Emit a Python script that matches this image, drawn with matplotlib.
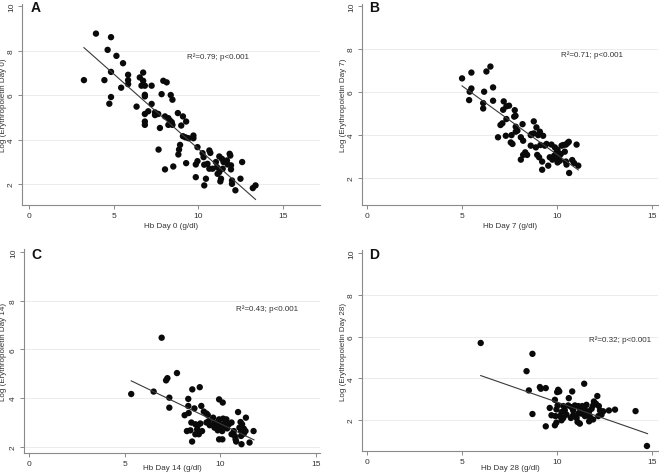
import matplotlib
matplotlib.use("Agg")
import matplotlib.pyplot as plt
import numpy as np

plt.rcParams['font.family'] = ['Liberation Sans', 'DejaVu Sans']

# ---------------- data ----------------
a_x = [3.96, 4.85, 4.65, 5.17, 5.56, 4.85, 3.25, 4.46, 5.86, 5.86, 5.86, 5.45, 4.85, 4.75, 6.36,
       6.75, 6.55, 6.75, 6.65, 6.85, 7.25, 6.85, 6.85, 7.25, 7.05, 6.85, 6.85, 6.85, 7.45, 7.64,
       7.45, 7.94, 8.14, 7.84, 8.38, 8.48, 8.04, 8.24, 8.34, 8.44, 8.24, 8.48, 7.74, 8.80, 9.10,
       9.29, 9.00, 7.66, 9.10, 9.25, 9.43, 9.72, 9.72, 8.93, 8.87, 8.83, 9.29, 8.53, 8.04, 9.96,
       9.96, 9.86, 9.86, 10.26, 10.32, 10.36, 10.36, 10.46, 10.66, 10.72, 10.55, 10.66, 10.85, 11.11,
       11.15, 11.25, 11.35, 11.31, 11.25, 11.41, 11.50, 11.70, 11.90, 11.86, 11.45, 11.94, 11.94,
       12.00, 12.00, 12.20, 12.50, 12.60, 13.23, 13.39, 11.74, 11.05]
a_y = [8.76, 8.60, 8.03, 7.76, 7.43, 7.04, 6.67, 6.67, 6.91, 6.67, 6.49, 6.33, 5.91, 5.61, 5.48,
       7.01, 6.79, 6.64, 6.42, 6.42, 6.42, 6.01, 5.94, 5.60, 5.27, 5.15, 4.81, 4.66, 5.22, 5.15,
       5.10, 6.64, 6.57, 6.04, 6.00, 5.79, 5.04, 4.96, 4.85, 4.78, 4.66, 4.66, 4.52, 5.19, 5.04,
       4.81, 4.63, 3.55, 4.15, 4.10, 4.06, 4.18, 4.06, 3.76, 3.55, 3.33, 2.94, 2.79, 2.66, 3.66,
       3.03, 2.88, 2.31, 3.39, 3.21, 2.87, 1.94, 2.24, 3.51, 3.40, 2.91, 2.69, 2.69, 2.76,
       2.46, 2.54, 2.24, 2.12, 3.24, 3.13, 2.99, 3.06, 3.28, 3.36, 2.69, 2.84, 2.66,
       2.16, 2.01, 1.72, 2.24, 2.99, 1.82, 1.94, 2.88, 2.99]

b_x = [5.00, 6.49, 6.28, 5.49, 5.49, 5.40, 5.37, 6.16, 6.63, 6.63, 6.11, 6.11, 7.19, 7.47, 7.33,
       7.16, 7.77, 7.81, 7.74, 7.33, 7.12, 7.02, 7.82, 7.91, 7.82, 7.60, 6.89, 7.30, 7.56, 7.65,
       8.09, 8.18, 8.21, 8.09, 8.21, 8.42, 8.61, 8.65, 8.77, 8.77, 8.91, 9.09, 9.26, 9.00, 8.88,
       8.95, 9.05, 9.21, 9.21, 9.12, 9.35, 9.44, 9.53, 9.70, 9.75, 9.84, 9.88, 10.02, 9.96, 10.11,
       10.14, 10.02, 10.23, 10.32, 10.46, 10.54, 10.61, 10.40, 10.46, 10.49, 10.63, 10.79, 10.89,
       11.02, 11.11, 10.19, 9.89, 9.61, 8.61, 8.32]
b_y = [6.63, 7.18, 6.95, 6.90, 6.16, 6.01, 5.62, 6.01, 6.21, 5.59, 5.48, 5.23, 5.56, 5.36, 5.33,
       5.17, 5.15, 4.89, 4.85, 4.74, 4.54, 4.46, 4.38, 4.20, 4.15, 3.99, 3.89, 3.96, 3.65, 3.58,
       3.89, 4.50, 3.73, 2.85, 3.07, 3.07, 3.50, 4.04, 4.07, 4.63, 4.35, 4.15, 3.96, 3.99, 3.42,
       3.07, 2.96, 2.76, 2.38, 3.53, 3.50, 3.58, 2.57, 3.55, 2.85, 3.03, 3.42, 3.30, 3.19, 3.03,
       2.80, 2.72, 3.50, 3.53, 3.55, 3.62, 3.68, 3.22, 2.76, 2.62, 2.23, 2.83, 2.69,
       3.55, 2.57, 3.11, 2.94, 2.96, 3.99, 3.19]

c_x = [5.34, 6.93, 6.51, 7.16, 7.23, 7.73, 7.33, 7.33, 8.53, 8.92, 8.32, 8.32, 8.64, 9.00, 8.13,
       8.34, 9.13, 9.27, 9.34, 9.27, 9.62, 9.69, 9.93, 10.12, 9.93, 10.14, 10.31, 9.83, 10.00,
       10.09, 9.86, 10.28, 10.44, 10.58, 9.93, 10.10, 10.92, 11.05, 11.33, 11.13, 10.99, 11.22,
       11.08, 10.70, 10.58, 10.75, 10.79, 11.08, 11.31, 11.22, 11.73, 11.10, 11.52, 10.82, 8.52,
       8.25, 8.43, 8.69, 8.83, 8.95, 8.78, 8.87, 9.04, 8.83, 9.44, 9.39, 9.69, 9.91, 10.17, 8.48,
       8.69, 10.35]
c_y = [4.17, 6.48, 4.27, 4.73, 4.82, 5.03, 4.02, 3.61, 4.36, 4.45, 3.97, 3.68, 3.58, 3.68, 3.30,
       3.39, 3.45, 3.37, 3.31, 3.00, 3.20, 2.98, 3.95, 3.82, 3.13, 3.16, 3.13, 2.86, 2.79,
       2.65, 2.68, 2.82, 2.93, 3.00, 2.31, 2.31, 3.43, 3.02, 3.20, 2.93, 2.79, 2.75,
       2.65, 2.65, 2.52, 2.45, 2.31, 2.45, 2.65, 2.54, 2.65, 2.11, 2.18, 2.22, 2.22,
       2.65, 2.68, 2.93, 2.89, 2.96, 2.72, 2.52, 2.65, 2.62, 2.89, 3.06, 2.79, 3.00, 2.93, 3.00,
       2.52, 2.76]

d_x = [5.98, 8.70, 8.39, 8.51, 8.70, 9.09, 9.40, 9.14, 9.40, 11.42, 10.05, 10.11, 10.00, 10.79,
       10.61, 9.88, 9.61, 10.02, 9.96, 10.32, 10.40, 10.23, 9.70, 9.91, 10.14, 10.32, 9.88, 9.96,
       10.23, 10.58, 10.75, 10.84, 10.93, 11.11, 11.19, 11.32, 11.37, 11.42, 10.84, 11.02, 11.07,
       11.19, 11.28, 11.46, 11.67, 11.72, 11.68, 11.89, 11.89, 11.93, 12.04, 12.11, 12.19, 12.25,
       12.16, 12.33, 12.42, 12.72, 13.04, 14.12, 14.72, 11.54, 11.60, 11.11, 10.72, 10.49, 11.81]
d_y = [5.69, 5.17, 4.34, 3.42, 2.29, 3.58, 3.53, 3.50, 1.70, 3.74, 3.45, 3.37, 3.34, 3.37,
       3.05, 2.97, 2.58, 2.70, 2.51, 2.67, 2.46, 2.38, 2.23, 2.19, 2.19, 2.10, 1.75, 1.88,
       1.99, 2.70, 2.62, 2.46, 2.70, 2.67, 2.54, 2.67, 2.46, 2.58, 2.23, 2.10, 1.91,
       1.83, 2.31, 2.19, 2.38, 2.15, 1.94, 2.03, 2.70, 2.89, 2.78, 3.15, 2.67, 2.46,
       2.19, 2.26, 2.42, 2.46, 2.50, 2.43, 0.76, 2.73, 2.42, 2.31, 2.10, 2.26, 2.54]

# fitted line endpoints
a_fit_x, a_fit_y = [3.25, 13.39], [8.13, 1.31]
b_fit_x, b_fit_y = [5.00, 11.11], [6.28, 2.37]
c_fit_x, c_fit_y = [5.34, 11.75], [4.71, 2.29]
d_fit_x, d_fit_y = [5.98, 14.75], [4.13, 1.35]

letters = ["A", "B", "C", "D"]
xlabels = ["Hb Day 0 (g/dl)", "Hb Day 7 (g/dl)", "Hb Day 14 (g/dl)", "Hb Day 28 (g/dl)"]
ylabels = ["Log (Erythropoietin Day 0)", "Log (Erythropoietin Day 7)",
           "Log (Erythropoietin Day 14)", "Log (Erythropoietin Day 28)"]
stats = ["R²=0.79; p<0.001", "R²=0.71; p<0.001", "R²=0.43; p<0.001", "R²=0.32; p<0.001"]
xticks = [0, 5, 10, 15]
yticks = [2, 4, 6, 8, 10]
grid_y = [2, 4, 6, 8]

# ---------------- layout ----------------
W, H = 659, 477
fig = plt.figure(figsize=(W / 100, H / 100), dpi=100)
fig.patch.set_facecolor("white")

# pixel boxes: left, right, top, bottom ; x/y limits ; ylabel right-edge px ; xlabel top px ; letter px
panels = [
    dict(box=(22, 320, 5, 206), xlim=(-0.41, 17.2), ylim=(1.06, 10.09),
         x=a_x, y=a_y, fx=a_fit_x, fy=a_fit_y, txt=(9.35, 7.75),
         ylab_px=7.5, xlab_px=223, let=(31, 1)),
    dict(box=(362, 658, 5, 206), xlim=(-0.26, 15.3), ylim=(0.74, 10.09),
         x=b_x, y=b_y, fx=b_fit_x, fy=b_fit_y, txt=(10.19, 7.77),
         ylab_px=347, xlab_px=223, let=(369, 1)),
    dict(box=(24, 320, 250, 454), xlim=(-0.26, 15.2), ylim=(1.75, 10.12),
         x=c_x, y=c_y, fx=c_fit_x, fy=c_fit_y, txt=(10.82, 7.71),
         ylab_px=7.5, xlab_px=465, let=(31, 248)),
    dict(box=(362, 658, 251, 452), xlim=(-0.26, 15.3), ylim=(0.52, 10.14),
         x=d_x, y=d_y, fx=d_fit_x, fy=d_fit_y, txt=(11.68, 5.87),
         ylab_px=347, xlab_px=465, let=(369, 248)),
]

axis_col = "#8a8a8a"
text_col = "#333333"
fs_tick = 6.0
fs_lab = 5.8

for i, p in enumerate(panels):
    l, r, t, b = p["box"]
    ax = fig.add_axes([l / W, 1 - b / H, (r - l) / W, (b - t) / H])
    ax.set_xlim(*p["xlim"])
    ax.set_ylim(*p["ylim"])
    for yy in grid_y:
        ax.axhline(yy, color="#ececec", lw=0.7, zorder=0)
    ax.scatter(p["x"], p["y"], s=21, color="#0a0a0a", edgecolors="none", zorder=3)
    ax.plot(p["fx"], p["fy"], color="#3a3a3a", lw=0.8, zorder=4)
    ax.text(p["txt"][0], p["txt"][1], stats[i], fontsize=fs_lab, color=text_col,
            ha="left", va="center")
    ax.set_xticks(xticks)
    ax.set_yticks(yticks)
    ax.set_xticklabels([str(v) for v in xticks])
    ax.set_yticklabels([str(v) for v in yticks], rotation=90, va="center")
    ax.tick_params(axis="both", labelsize=fs_tick, colors=axis_col, labelcolor=text_col,
                   length=3, width=0.7, pad=2)
    for s in ["top", "right"]:
        ax.spines[s].set_visible(False)
    for s in ["left", "bottom"]:
        ax.spines[s].set_color(axis_col)
        ax.spines[s].set_linewidth(0.8)
    ax.set_xlabel(xlabels[i], fontsize=fs_lab, color=text_col)
    ax.set_ylabel(ylabels[i], fontsize=fs_lab, color=text_col)
    ax.yaxis.set_label_coords((p["ylab_px"] - l) / (r - l), 0.5)
    ax.xaxis.set_label_coords(0.5 * (xticks[-1] + xticks[0] - 2 * p["xlim"][0]) /
                              (p["xlim"][1] - p["xlim"][0]) * 0 + 0.5,
                              (b - p["xlab_px"]) / (b - t))
    fig.text(p["let"][0] / W, 1 - p["let"][1] / H, letters[i], fontsize=10,
             fontweight="bold", color="#111111", ha="left", va="top")

fig.savefig("out.png", dpi=100, facecolor="white")
